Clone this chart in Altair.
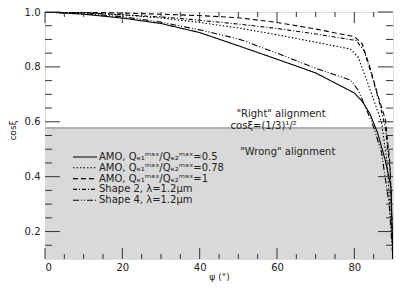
import altair as alt
import pandas as pd

# ---------------- data ----------------
series_names = [
    "AMO, Qₑ₁ᵐᵃˣ/Qₑ₂ᵐᵃˣ=0.5",
    "AMO, Qₑ₁ᵐᵃˣ/Qₑ₂ᵐᵃˣ=0.78",
    "AMO, Qₑ₁ᵐᵃˣ/Qₑ₂ᵐᵃˣ=1",
    "Shape 2, λ=1.2μm",
    "Shape 4, λ=1.2μm",
]
dashes = [[1, 0], [1.5, 2], [5, 3], [4, 2, 1, 2], [6, 2, 1, 2, 1, 2]]

psi_amo05 = [0, 10, 20, 30, 40, 50, 60, 70, 80, 82, 84, 86, 88, 89.5, 90]
cos_amo05 = [1.0, 0.992, 0.978, 0.958, 0.925, 0.877, 0.828, 0.778, 0.705, 0.675, 0.63, 0.56, 0.46, 0.36, 0.1]

psi_amo078 = [0, 10, 20, 30, 40, 50, 60, 70, 79, 81, 83, 85, 87, 88.5, 90]
cos_amo078 = [1.0, 0.997, 0.99, 0.978, 0.962, 0.942, 0.917, 0.89, 0.865, 0.835, 0.76, 0.68, 0.6, 0.45, 0.1]

psi_amo1 = [0, 10, 20, 30, 40, 50, 60, 70, 80, 82, 84, 86, 88, 89.2, 90]
cos_amo1 = [1.0, 0.999, 0.996, 0.992, 0.987, 0.979, 0.962, 0.938, 0.91, 0.885, 0.8, 0.7, 0.61, 0.45, 0.1]

psi_shape2 = [0, 10, 20, 30, 40, 50, 60, 70, 80.5, 82.5, 84.5, 86.5, 88, 89.3, 90]
cos_shape2 = [1.0, 0.997, 0.99, 0.982, 0.97, 0.956, 0.94, 0.92, 0.896, 0.86, 0.77, 0.67, 0.58, 0.42, 0.1]

psi_shape4 = [0, 10, 20, 30, 40, 50, 60, 70, 79, 81, 83, 85, 87, 89, 90]
cos_shape4 = [1.0, 0.994, 0.983, 0.963, 0.935, 0.902, 0.85, 0.795, 0.752, 0.715, 0.65, 0.58, 0.49, 0.3, 0.1]

x_domain = [0, 90]
y_domain = [0.1, 1.0]
x_major = [0, 20, 40, 60, 80]
x_minor = [5, 10, 15, 25, 30, 35, 45, 50, 55, 65, 70, 75, 85]
y_major = [0.2, 0.4, 0.6, 0.8, 1.0]
y_minor = [0.15, 0.25, 0.3, 0.35, 0.45, 0.5, 0.55, 0.65, 0.7, 0.75, 0.85, 0.9, 0.95]
threshold = (1 / 3) ** 0.5

notes_text = ['"Right" alignment', "cosξ=(1/3)¹/²", '"Wrong" alignment']
notes_psi = [49.5, 48.0, 50.5]
notes_cos = [0.63, 0.585, 0.49]

# ---------------- build tables ----------------
rows = []
for name, ps, cs in [
    (series_names[0], psi_amo05, cos_amo05),
    (series_names[1], psi_amo078, cos_amo078),
    (series_names[2], psi_amo1, cos_amo1),
    (series_names[3], psi_shape2, cos_shape2),
    (series_names[4], psi_shape4, cos_shape4),
]:
    for i, (p, c) in enumerate(zip(ps, cs)):
        rows.append({"series": name, "psi": p, "cos": c, "order": i})
curves = pd.DataFrame(rows)

W, H = 348, 247
FONT = "DejaVu Sans"
TXT = "#222222"

x_scale = alt.Scale(domain=x_domain, nice=False, zero=False)
y_scale = alt.Scale(domain=y_domain, nice=False, zero=False)
dash_scale = alt.Scale(domain=series_names, range=dashes)

band = alt.Chart(pd.DataFrame({"x0": [x_domain[0]], "x1": [x_domain[1]],
                                "y0": [y_domain[0]], "y1": [threshold]})).mark_rect(
    color="#d9d9d9"
).encode(
    x=alt.X("x0:Q", scale=x_scale,
            axis=alt.Axis(values=x_major, ticks=False, grid=False, domain=False,
                          labelFont=FONT, labelFontSize=10, labelColor=TXT,
                          labelPadding=3, title="ψ (°)", titleFont=FONT,
                          titleFontSize=9, titleFontWeight="normal", titleColor=TXT,
                          titleY=13, titleBaseline="top")),
    x2="x1:Q",
    y=alt.Y("y0:Q", scale=y_scale,
            axis=alt.Axis(values=y_major, format=".1f", ticks=False, grid=False,
                          domain=False, labelFont=FONT, labelFontSize=10,
                          labelColor=TXT, labelPadding=5, title="cosξ",
                          titleFont=FONT, titleFontSize=9,
                          titleFontWeight="normal", titleColor=TXT,
                          titleX=-28, titleY=118, titleBaseline="bottom")),
    y2="y1:Q",
)

band_line = alt.Chart(pd.DataFrame({"y": [threshold]})).mark_rule(
    color="#b0b0b0", strokeWidth=2
).encode(y=alt.Y("y:Q", scale=y_scale))

lines = alt.Chart(curves).mark_line(color="black", strokeWidth=1.1, clip=True).encode(
    x=alt.X("psi:Q", scale=x_scale),
    y=alt.Y("cos:Q", scale=y_scale),
    strokeDash=alt.StrokeDash("series:N", scale=dash_scale, legend=None),
    detail="series:N",
    order="order:Q",
)

def xticks(vals, length):
    df = pd.DataFrame({"v": vals})
    bottom = alt.Chart(df).mark_rule(color="#333", strokeWidth=1).encode(
        x=alt.X("v:Q", scale=x_scale), y=alt.value(H), y2=alt.value(H - length))
    top = alt.Chart(df).mark_rule(color="#333", strokeWidth=1).encode(
        x=alt.X("v:Q", scale=x_scale), y=alt.value(0), y2=alt.value(length))
    return bottom + top

def yticks(vals, length):
    df = pd.DataFrame({"v": vals})
    left = alt.Chart(df).mark_rule(color="#333", strokeWidth=1).encode(
        y=alt.Y("v:Q", scale=y_scale), x=alt.value(0), x2=alt.value(length))
    right = alt.Chart(df).mark_rule(color="#333", strokeWidth=1).encode(
        y=alt.Y("v:Q", scale=y_scale), x=alt.value(W), x2=alt.value(W - length))
    return left + right

ticks = xticks(x_major, 11) + xticks(x_minor, 5) + yticks(y_major, 15) + yticks(y_minor, 7)

notes = alt.Chart(pd.DataFrame({"t": notes_text, "p": notes_psi, "c": notes_cos})).mark_text(
    font=FONT, fontSize=10, color=TXT, align="left", baseline="middle"
).encode(
    x=alt.X("p:Q", scale=x_scale),
    y=alt.Y("c:Q", scale=y_scale),
    text="t:N",
)

leg = pd.DataFrame({"series": series_names, "row": list(range(len(series_names)))})
leg_lines = alt.Chart(leg).transform_calculate(ly="145 + datum.row * 10.8").mark_rule(
    color="black", strokeWidth=1.1
).encode(
    x=alt.value(28), x2=alt.value(52),
    y=alt.Y("ly:Q", scale=None),
    strokeDash=alt.StrokeDash("series:N", scale=dash_scale, legend=None),
)
leg_text = alt.Chart(leg).transform_calculate(ly="145 + datum.row * 10.8").mark_text(
    font=FONT, fontSize=10, color=TXT, align="left", baseline="middle", dx=0
).encode(
    x=alt.value(54),
    y=alt.Y("ly:Q", scale=None),
    text="series:N",
)

chart = alt.layer(band, band_line, lines, ticks, notes, leg_lines, leg_text).properties(
    width=W, height=H,
    autosize=alt.AutoSizeParams(type="none"),
    padding={"left": 37, "top": 4, "right": 6, "bottom": 23},
).configure_view(stroke="black", strokeWidth=1).configure(background="white")

chart.save("out.html", embed_options={"renderer": "svg", "actions": False})
